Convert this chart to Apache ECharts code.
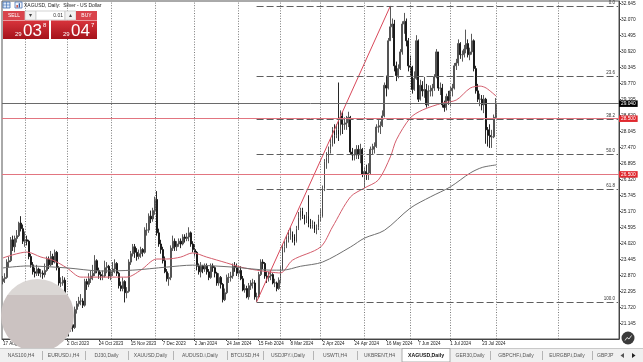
<!DOCTYPE html>
<html><head><meta charset="utf-8">
<script src="https://cdn.jsdelivr.net/npm/echarts@6/dist/echarts.min.js"></script>
<style>html,body{margin:0;padding:0;background:#fff}#c{width:643px;height:362px}</style>
</head><body><div id="c"></div>
<script>
// ---------------- data ----------------
const title = 'XAGUSD, Daily:  Silver - US Dollar';
const bid = 29.038, ask = 29.047, lot = '0.01';
const alertLevels = [28.5, 26.5];
const tickLabels = ['17 Aug 2023','8 Sep 2023','2 Oct 2023','24 Oct 2023','15 Nov 2023','7 Dec 2023','2 Jan 2024','24 Jan 2024','15 Feb 2024','8 Mar 2024','2 Apr 2024','24 Apr 2024','16 May 2024','7 Jun 2024','1 Jul 2024','23 Jul 2024'];
const priceTicks = [21.145,21.720,22.295,22.870,23.445,24.020,24.595,25.170,25.745,26.320,26.895,27.470,28.045,28.620,29.195,29.770,30.345,30.920,31.495,32.070,32.645];
// daily bars [open, close, low, high]
const ohlc = [
[22.65,22.75,22.55,22.85],[22.75,22.80,22.60,22.95],[22.80,23.35,22.75,23.45],[23.35,23.40,23.15,23.55],[23.40,24.15,23.35,24.25],
[24.15,23.90,23.75,24.30],[23.90,24.20,23.70,24.30],[24.20,24.30,24.05,24.50],[24.30,24.75,24.25,24.80],[24.75,24.55,24.45,25.00],
[24.55,24.10,24.00,24.70],[24.10,24.15,23.90,24.45],[24.15,24.10,23.95,24.30],[24.10,23.55,23.45,24.15],[23.55,23.25,23.15,23.65],
[23.25,23.00,22.90,23.35],[23.00,22.95,22.80,23.15],[22.95,23.10,22.85,23.25],[23.10,22.95,22.85,23.15],[22.95,22.95,22.80,23.10],
[22.95,22.90,22.75,23.05],[22.90,23.05,22.80,23.30],[23.05,23.45,23.00,23.55],[23.45,23.25,23.10,23.55],[23.25,23.55,23.20,23.75],
[23.55,23.35,23.25,23.65],[23.35,23.70,23.30,23.80],[23.70,23.15,23.05,23.75],[23.15,22.60,22.50,23.20],[22.60,22.60,22.45,22.80],
[22.60,22.70,22.50,22.85],[22.70,22.10,21.95,22.80],[22.10,21.00,20.90,22.15],[21.00,20.95,20.68,21.20],[20.95,21.10,20.85,21.25],
[21.10,21.00,20.85,21.25],[21.00,21.65,20.95,21.75],[21.65,21.85,21.50,21.95],[21.85,21.95,21.75,22.10],[21.95,21.95,21.80,22.20],
[21.95,21.80,21.70,22.05],[21.80,22.65,21.75,22.75],[22.65,22.55,22.35,22.75],[22.55,22.75,22.45,22.95],[22.75,22.85,22.60,23.05],
[22.85,22.95,22.70,23.25],[22.95,23.40,22.85,23.60],[23.40,23.05,22.95,23.45],[23.05,22.90,22.75,23.15],[22.90,22.85,22.70,23.00],
[22.85,22.85,22.70,23.05],[22.85,23.15,22.80,23.40],[23.15,23.20,22.95,23.35],[23.20,22.85,22.75,23.25],[22.85,23.00,22.70,23.10],
[23.00,23.10,22.85,23.35],[23.10,23.30,22.95,23.45],[23.30,22.95,22.85,23.35],[22.95,22.50,22.40,23.00],[22.50,22.40,22.30,22.65],
[22.40,22.65,22.30,22.80],[22.65,22.25,21.90,22.70],[22.25,22.30,22.05,22.45],[22.30,23.35,22.25,23.45],[23.35,23.65,23.25,23.75],
[23.65,23.90,23.55,24.00],[23.90,23.70,23.50,24.00],[23.70,23.55,23.40,23.85],[23.55,23.65,23.45,23.80],[23.65,23.80,23.50,23.90],
[23.80,23.70,23.55,23.85],[23.70,24.50,23.65,24.60],[24.50,24.50,24.30,24.75],[24.50,25.00,24.40,25.10],[25.00,24.90,24.75,25.20],
[24.90,25.20,24.80,25.30],[25.20,25.60,25.05,25.70],[25.60,24.40,24.30,25.90],[24.40,24.00,23.90,24.55],[24.00,23.80,23.65,24.15],
[23.80,23.40,23.30,23.90],[23.40,23.00,22.95,23.55],[23.00,22.75,22.65,23.10],[22.75,22.80,22.50,22.95],[22.80,23.85,22.70,23.95],
[23.85,24.10,23.75,24.30],[24.10,23.90,23.75,24.20],[23.90,24.00,23.75,24.10],[24.00,24.10,23.90,24.20],[24.10,24.00,23.85,24.20],
[24.00,24.25,23.95,24.35],[24.25,24.20,24.05,24.35],[24.20,24.25,24.10,24.40],[24.25,24.40,24.10,24.60],[24.40,24.00,23.90,24.45],
[24.00,23.80,23.70,24.10],[23.80,23.70,23.55,24.00],[23.70,23.20,23.05,23.75],[23.20,23.00,22.90,23.30],[23.00,23.20,22.80,23.35],
[23.20,23.10,22.95,23.25],[23.10,23.20,23.00,23.30],[23.20,23.00,22.90,23.30],[23.00,22.80,22.70,23.10],[22.80,23.20,22.75,23.30],
[23.20,23.15,23.00,23.30],[23.15,22.95,22.80,23.20],[22.95,22.60,22.50,23.00],[22.60,22.80,22.50,22.95],[22.80,22.55,22.40,22.85],
[22.55,22.00,21.90,22.60],[22.00,22.25,21.95,22.40],[22.25,22.80,22.20,22.90],[22.80,22.80,22.60,22.95],[22.80,22.85,22.65,23.00],
[22.85,23.20,22.75,23.30],[23.20,23.15,23.00,23.35],[23.15,22.95,22.85,23.30],[22.95,23.05,22.80,23.20],[23.05,22.75,22.70,23.20],
[22.75,22.35,22.30,22.85],[22.35,22.40,22.25,22.55],[22.40,22.10,22.05,22.50],[22.10,22.50,22.00,22.60],[22.50,22.60,22.35,22.70],
[22.60,22.60,22.40,22.75],[22.60,22.10,22.00,22.70],[22.10,22.10,21.92,22.25],[22.10,22.90,22.05,23.00],[22.90,23.35,22.85,23.45],
[23.35,23.30,23.10,23.45],[23.30,22.85,22.75,23.35],[22.85,22.80,22.60,23.00],[22.80,22.85,22.65,23.00],[22.85,22.90,22.70,23.05],
[22.90,22.60,22.55,22.95],[22.60,22.60,22.45,22.75],[22.60,22.40,22.30,22.65],[22.40,22.70,22.35,22.80],[22.70,23.10,22.60,23.20],
[23.10,23.90,23.05,24.00],[23.90,23.90,23.70,24.10],[23.90,24.15,23.85,24.30],[24.15,24.30,24.05,24.50],[24.30,24.35,24.15,24.60],
[24.35,24.25,24.05,24.45],[24.25,24.10,23.95,24.35],[24.10,24.55,24.05,24.65],[24.55,24.95,24.50,25.15],[24.95,25.20,24.85,25.30],
[25.20,25.00,24.90,25.30],[25.00,24.90,24.70,25.05],[24.90,25.00,24.75,25.15],[25.00,24.70,24.60,25.75],[24.70,24.65,24.55,24.90],
[24.65,24.70,24.55,24.85],[24.70,24.50,24.40,24.80],[24.50,24.60,24.35,24.70],[24.60,24.90,24.50,25.05],[24.90,25.00,24.80,25.25],
[25.00,26.00,24.95,26.10],[26.00,26.95,25.90,27.05],[26.95,27.10,26.70,27.30],[27.10,27.40,26.90,27.50],[27.40,27.60,27.25,27.80],
[27.60,28.10,27.50,28.20],[28.10,27.90,27.60,28.30],[27.90,28.10,27.80,28.30],[28.10,27.95,27.70,29.80],[27.95,28.60,27.90,28.80],
[28.60,28.30,27.95,28.75],[28.30,28.30,28.10,28.55],[28.30,28.35,28.10,28.60],[28.35,28.55,28.20,28.75],[28.55,27.30,27.20,28.60],
[27.30,27.20,27.00,27.45],[27.20,27.20,27.00,27.40],[27.20,27.40,27.05,27.55],[27.40,27.20,27.05,27.55],[27.20,27.40,26.90,27.60],
[27.40,26.50,26.40,27.45],[26.50,26.60,26.00,26.75],[26.60,26.50,26.30,26.85],[26.50,26.55,26.30,26.90],[26.55,27.40,26.50,27.50],
[27.40,27.40,27.20,27.60],[27.40,27.50,27.25,27.65],[27.50,28.20,27.45,28.30],[28.20,28.20,28.00,28.45],[28.20,28.25,27.95,28.40],
[28.25,28.60,28.20,28.80],[28.60,29.70,28.55,29.80],[29.70,29.60,29.30,30.05],[29.60,31.30,29.55,31.40],[31.30,31.80,31.30,32.55],
[31.80,31.90,31.40,32.10],[31.90,30.40,30.20,32.05],[30.40,30.05,29.85,30.55],[30.05,30.30,29.95,30.45],[30.30,30.90,30.25,31.00],
[30.90,31.90,30.80,32.00],[31.90,32.00,31.55,32.30],[32.00,31.30,31.10,32.10],[31.30,30.40,30.20,31.40],[30.40,30.35,30.05,30.75],
[30.35,29.55,29.40,30.40],[29.55,29.95,29.50,30.20],[29.95,31.30,29.90,31.50],[31.30,29.20,29.10,31.35],[29.20,29.70,29.15,29.90],
[29.70,29.50,29.30,29.85],[29.50,29.55,29.25,30.00],[29.55,29.00,28.90,29.75],[29.00,29.50,28.95,29.70],[29.50,29.50,29.30,29.70],
[29.50,29.60,29.30,29.75],[29.60,30.00,29.50,30.10],[30.00,30.90,29.95,31.00],[30.90,29.60,29.50,30.90],[29.60,29.60,29.35,29.80],
[29.60,29.00,28.90,29.75],[29.00,28.90,28.75,29.15],[28.90,29.30,28.80,29.40],[29.30,29.15,29.00,29.50],[29.15,29.50,28.95,29.65],
[29.50,29.60,29.30,29.75],[29.60,30.40,29.55,30.50],[30.40,30.50,30.25,30.65],[30.50,31.20,30.40,31.35],[31.20,30.80,30.65,31.25],
[30.80,30.80,30.55,30.95],[30.80,31.00,30.70,31.15],[31.00,31.20,30.85,31.70],[31.20,30.80,30.70,31.35],[30.80,30.90,30.60,31.05],
[30.90,31.30,30.80,31.55],[31.30,30.30,30.20,31.35],[30.30,29.50,29.40,30.40],[29.50,29.20,29.10,29.75],[29.20,29.20,28.95,29.40],
[29.20,29.00,28.80,29.35],[29.00,29.20,28.70,29.35],[29.20,28.10,27.60,29.25],[28.10,27.90,27.50,28.20],[27.90,27.85,27.45,28.30],
[27.85,27.85,27.45,28.10],[27.85,28.55,27.80,28.65],[28.55,29.04,28.50,29.24]
];
// moving averages: [bar, value]
const maFast = [[0,23.50],[12,23.71],[19,23.53],[25,23.42],[32,23.14],[39,22.81],[45,22.81],[55,22.81],[62,22.81],[69,23.06],[77,23.46],[82,23.46],[89,23.53],[95,23.68],[102,23.53],[112,23.32],[119,23.17],[127,23.06],[134,22.99],[139,22.96],[145,23.42],[159,23.89],[165,24.61],[174,25.69],[181,26.01],[188,26.30],[194,27.13],[197,27.74],[204,28.53],[210,28.81],[220,29.06],[227,29.17],[234,29.60],[239,29.67],[242,29.60],[247,29.31]];
const maSlow = [[0,23.14],[12,23.21],[32,23.14],[49,23.03],[65,23.06],[82,23.17],[95,23.24],[115,23.17],[134,23.06],[140,23.06],[149,23.20],[160,23.35],[174,23.89],[181,24.21],[191,24.49],[204,25.29],[214,25.69],[224,26.05],[234,26.55],[240,26.75],[247,26.84]];
const fibLow = {bar: 127, price: 21.92};
const fibHigh = {bar: 194, price: 32.55};
const fibLevels = [0, 23.6, 38.2, 50, 61.8, 100];
const separators = [11, 32, 54, 76, 96, 118, 139, 159, 181, 204, 224, 247, 278];
const tabs = ['NAS100,H4','EURUSD.i,H4','DJ30,Daily','XAUUSD,Daily','AUDUSD.i,Daily','BTCUSD,H4','USDJPY.i,Daily','USWTI,H4','UKBRENT,H4','XAGUSD,Daily','GER30,Daily','GBPCHF.i,Daily','EURGBP.i,Daily','GBPJPY.i,Daily'];
const activeTab = 'XAGUSD,Daily';

// ---------------- layout ----------------
const SLOTS = 309, LABEL_EVERY = 16, Y_MIN = 20.587, Y_MAX = 32.728;
const tabEdges = [0, 42, 85, 128, 173, 227, 263, 313, 357, 402, 450, 490, 542, 592, 640];
const FONT = '"Liberation Sans", Arial, sans-serif';
const cats = Array.from({length: SLOTS}, (_, i) => String(i));
const showTick = (i) => i % LABEL_EVERY === 0 && i / LABEL_EVERY < tickLabels.length;

const fibSpan = fibHigh.price - fibLow.price;
const fibData = fibLevels.map(l => {
  const p = fibHigh.price - fibSpan * l / 100;
  return [{coord: [fibLow.bar, p], name: l.toFixed(1)}, {coord: [SLOTS - 1, p]}];
});

const levelData = [
  {yAxis: bid, lineStyle: {color: '#6a6a6a'}, label: {backgroundColor: '#000'}},
  ...alertLevels.map(v => ({yAxis: v, lineStyle: {color: '#e27580'}, label: {backgroundColor: '#e0282e'}}))
];

const txt = (x, y, text, size, fill, extra) => Object.assign({type: 'text', x, y, z: 110,
  style: Object.assign({text, fontSize: size, fontFamily: FONT, fill, verticalAlign: 'middle', align: 'left'}, extra || {})});
const rect = (x, y, w, h, fill, stroke, z) => ({type: 'rect', z: z || 105, shape: {x, y, width: w, height: h},
  style: {fill, stroke: stroke || null, lineWidth: stroke ? 0.8 : 0}});

const tileGrad = () => new echarts.graphic.LinearGradient(0, 0, 0, 1, [{offset: 0, color: '#d8343c'}, {offset: 1, color: '#a5131b'}]);
const btnColor = '#d9444c';
const bidS = bid.toFixed(3), askS = ask.toFixed(3);

const graphics = [
  rect(3, 2, 7, 6, '#dbe7f7', '#3b6db3'),
  {type: 'line', z: 106, shape: {x1: 3, y1: 5, x2: 10, y2: 5}, style: {stroke: '#3b6db3', lineWidth: 0.6}},
  {type: 'line', z: 106, shape: {x1: 6.5, y1: 2, x2: 6.5, y2: 8}, style: {stroke: '#3b6db3', lineWidth: 0.6}},
  rect(15, 2, 7, 6, '#f3f6fc', '#4a74b5'),
  rect(16.5, 5, 1.3, 2.5, '#c0392b', null, 106),
  rect(18.7, 3.3, 1.3, 4.2, '#2e5ea8', null, 106),
  txt(24, 5.5, title, 5, '#222'),
  rect(3, 11, 22, 9, btnColor),
  txt(14, 15.7, 'SELL', 5, '#fff', {align: 'center'}),
  rect(25, 11, 11, 9, '#f2f2f2', '#c8c8c8'),
  txt(30.5, 15.5, '▾', 6, '#444', {align: 'center'}),
  rect(36, 11, 29, 9, '#fff', '#c8c8c8'),
  txt(63, 15.7, lot, 5, '#333', {align: 'right'}),
  rect(65, 11, 11, 9, '#f2f2f2', '#c8c8c8'),
  txt(70.5, 15.5, '▴', 6, '#444', {align: 'center'}),
  rect(76, 11, 21, 9, btnColor),
  txt(86.5, 15.7, 'BUY', 5, '#fff', {align: 'center'}),
  {type: 'rect', z: 105, shape: {x: 3, y: 20.5, width: 46, height: 18.5}, style: {fill: tileGrad()}},
  {type: 'rect', z: 105, shape: {x: 51, y: 20.5, width: 46, height: 18.5}, style: {fill: tileGrad()}},
  txt(15, 34.5, bidS.slice(0, 2), 6, '#fff'),
  txt(23, 31, bidS.slice(3, 5), 17, '#fff'),
  txt(43, 25.5, bidS.slice(5), 6, '#fff'),
  txt(63, 34.5, askS.slice(0, 2), 6, '#fff'),
  txt(71, 31, askS.slice(3, 5), 17, '#fff'),
  txt(91, 25.5, askS.slice(5), 6, '#fff'),
  {type: 'circle', z: 95, shape: {cx: 37.5, cy: 315.5, r: 36.5},
   style: {fill: new echarts.graphic.LinearGradient(0, 0, 0, 1, [
     {offset: 0, color: '#dbd7d5'}, {offset: 0.22, color: '#dbd7d5'},
     {offset: 0.221, color: '#cbc2c1'}, {offset: 1, color: '#cbc2c1'}])}},
  {type: 'circle', z: 100, shape: {cx: 628, cy: 338, r: 6.5}, style: {fill: '#3a3a3a'}},
  {type: 'polyline', z: 101, shape: {points: [[625, 340.5], [627, 337.5], [629, 339], [631.5, 335.5]]}, style: {stroke: '#fff', lineWidth: 0.8, fill: null}},
  rect(0, 348.5, 643, 13.5, '#f0f0f0', null, 120),
  {type: 'line', z: 121, shape: {x1: 0, y1: 348.5, x2: 643, y2: 348.5}, style: {stroke: '#c9c9c9', lineWidth: 1}}
];
tabs.forEach((t, i) => {
  const x0 = tabEdges[i], x1 = tabEdges[i + 1];
  const active = t === activeTab;
  if (active) graphics.push(rect(x0, 348.5, x1 - x0, 13.5, '#fff', '#9a9a9a', 121));
  else if (i > 0 && tabs[i - 1] !== activeTab) graphics.push({type: 'line', z: 121, shape: {x1: x0 + 0.5, y1: 351, x2: x0 + 0.5, y2: 360}, style: {stroke: '#b5b5b5', lineWidth: 1}});
  const last = i === tabs.length - 1;
  graphics.push(Object.assign(txt(last ? x0 + 5 : (x0 + x1) / 2, 355.5, t, active ? 5.2 : 5, active ? '#111' : '#555', {align: last ? 'left' : 'center', fontWeight: active ? 'bold' : 'normal'}), {z: 122}));
});
graphics.push(rect(614, 349, 29, 13, '#f0f0f0', null, 123));
graphics.push({type: 'polygon', z: 124, shape: {points: [[624, 353], [624, 358], [620.5, 355.5]]}, style: {fill: '#555'}});
graphics.push({type: 'polygon', z: 124, shape: {points: [[632, 353], [632, 358], [635.5, 355.5]]}, style: {fill: '#222'}});

const chart = echarts.init(document.getElementById('c'));
chart.setOption({
  animation: false,
  backgroundColor: '#fff',
  textStyle: {fontFamily: FONT},
  grid: {left: 2, right: 24, top: 1, bottom: 23, show: true, borderColor: '#555', borderWidth: 1, backgroundColor: '#fff'},
  xAxis: {
    type: 'category', data: cats, boundaryGap: true,
    axisLine: {show: true, lineStyle: {color: '#444', width: 1}},
    axisTick: {show: true, alignWithLabel: true, length: 2, interval: showTick, lineStyle: {color: '#444'}},
    axisLabel: {show: true, interval: showTick, formatter: (v, i) => tickLabels[i / LABEL_EVERY], align: 'left', fontSize: 4.5, color: '#222', margin: 2},
    splitLine: {show: false}
  },
  yAxis: {
    type: 'value', position: 'right', min: Y_MIN, max: Y_MAX,
    axisLine: {show: true, lineStyle: {color: '#444'}},
    axisTick: {show: true, length: 2, customValues: priceTicks, lineStyle: {color: '#444'}},
    axisLabel: {show: true, customValues: priceTicks, formatter: v => v.toFixed(3), fontSize: 4.8, color: '#222', margin: 2},
    splitLine: {show: false}
  },
  series: [
    {type: 'line', name: 'sep', data: [], silent: true, z: 1,
     markLine: {symbol: 'none', silent: true, animation: false, label: {show: false},
       lineStyle: {color: '#7a7a7a', type: [1, 1.6], width: 1},
       data: separators.map(b => ({xAxis: b}))}},
    {type: 'line', name: 'fib', data: [], silent: true, z: 2,
     markLine: {symbol: 'none', silent: true, animation: false,
       lineStyle: {color: '#5e5e5e', type: [7, 3], width: 1},
       label: {show: true, position: 'insideEndTop', formatter: p => p.name, fontSize: 4.5, color: '#333', distance: [3, 1]},
       data: fibData}},
    {type: 'candlestick', name: 'XAGUSD', data: ohlc, z: 3, barWidth: 1.4,
     itemStyle: {color: '#8c8c8c', color0: '#0e0e0e', borderColor: '#474747', borderColor0: '#0e0e0e', borderWidth: 0.9}},
    {type: 'line', name: 'MA fast', data: maFast, showSymbol: false, smooth: 0.3, z: 4,
     lineStyle: {color: '#d45d6c', width: 1}},
    {type: 'line', name: 'MA slow', data: maSlow, showSymbol: false, smooth: 0.3, z: 4,
     lineStyle: {color: '#6f6f6f', width: 1}},
    {type: 'line', name: 'trend', data: [[fibLow.bar, fibLow.price], [fibHigh.bar, fibHigh.price]], showSymbol: false, z: 4,
     lineStyle: {color: '#d9485a', width: 1}},
    {type: 'line', name: 'levels', data: [], silent: true, z: 5,
     markLine: {symbol: 'none', silent: true, animation: false,
       lineStyle: {type: 'solid', width: 1},
       label: {show: true, position: 'end', formatter: p => p.value.toFixed(3), color: '#fff', fontSize: 4.8, padding: [1, 2, 0.5, 2], distance: 0},
       data: levelData}}
  ],
  graphic: graphics
});
</script></body></html>
